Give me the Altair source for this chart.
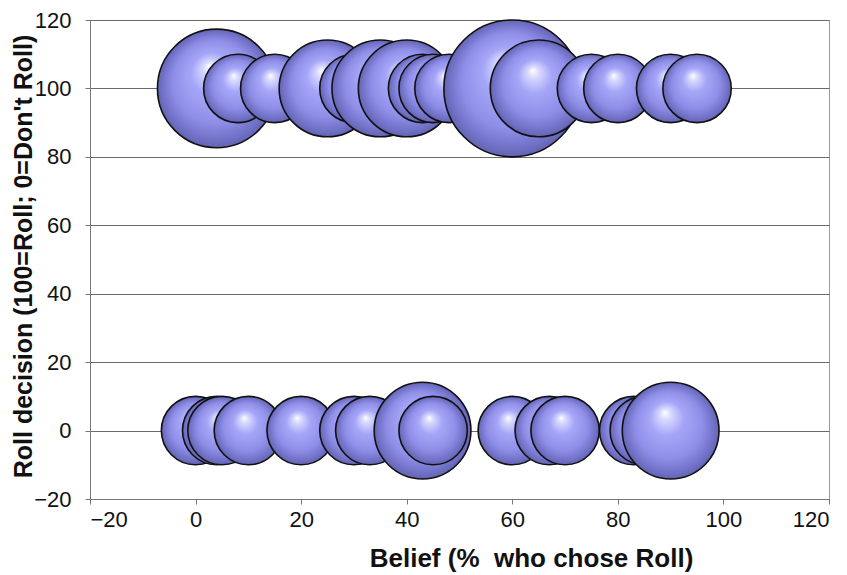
import altair as alt
import pandas as pd

# Subjects who chose Roll (decision = 100): belief value and number of subjects
roll_belief = [4, 8, 15, 25, 30, 35, 40, 43, 45, 48, 60, 65, 75, 80, 90, 95]
roll_count = [3, 1, 1, 2, 1, 2, 2, 1, 1, 1, 4, 2, 1, 1, 1, 1]

# Subjects who chose Don't Roll (decision = 0)
dont_belief = [0, 4, 5, 10, 20, 30, 33, 43, 45, 60, 67, 70, 83, 85, 90]
dont_count = [1, 1, 1, 1, 1, 1, 1, 2, 1, 1, 1, 1, 1, 1, 2]

tick_values = [-20, 0, 20, 40, 60, 80, 100, 120]

df = pd.DataFrame({
    "belief": roll_belief + dont_belief,
    "decision": [100] * len(roll_belief) + [0] * len(dont_belief),
    "count": roll_count + dont_count,
})
df["order"] = range(len(df))

LABEL_FONT = "Liberation Sans Narrow, Liberation Sans, Arial"
TITLE_FONT = "Liberation Sans, Arial"

sphere = alt.RadialGradient(
    gradient="radial",
    x1=0.44, y1=0.31, r1=0.0,
    x2=0.5, y2=0.5, r2=0.5,
    stops=[
        alt.GradientStop(offset=0.0, color="#ffffff"),
        alt.GradientStop(offset=0.12, color="#d8d8ff"),
        alt.GradientStop(offset=0.35, color="#a6a6f8"),
        alt.GradientStop(offset=0.7, color="#8e8ee8"),
        alt.GradientStop(offset=0.9, color="#7272c8"),
        alt.GradientStop(offset=1.0, color="#6464b4"),
    ],
)

chart = (
    alt.Chart(df)
    .mark_circle(fill=sphere, stroke="#111111", strokeWidth=1.6, opacity=1, fillOpacity=1)
    .encode(
        x=alt.X(
            "belief:Q",
            scale=alt.Scale(domain=[-20, 120], nice=False, zero=False),
            axis=alt.Axis(
                values=tick_values,
                title="Belief (% \u00a0who chose Roll)",
                grid=False,
                tickSize=5,
                labelPadding=5,
                titleFontSize=26,
                titleX=441,
                titleY=67,
                titleAlign="center",
                titleBaseline="alphabetic",
            ),
        ),
        y=alt.Y(
            "decision:Q",
            scale=alt.Scale(domain=[-20, 120], nice=False, zero=False),
            axis=alt.Axis(
                values=tick_values,
                title="Roll decision (100=Roll; 0=Don't Roll)",
                grid=True,
                tickSize=5,
                labelPadding=14,
                titleFontSize=25,
                titleX=-67,
                titleY=236,
                titleAngle=270,
                titleAlign="center",
                titleBaseline="middle",
            ),
        ),
        size=alt.Size(
            "count:Q",
            scale=alt.Scale(type="linear", domain=[0, 4], range=[0, 18720]),
            legend=None,
        ),
        order=alt.Order("order:Q"),
    )
    .properties(
        width=739,
        height=479,
        autosize=alt.AutoSizeParams(type="none"),
        padding={"left": 90, "top": 20, "right": 18, "bottom": 76},
    )
    .configure_view(stroke="#9a9a9a", strokeWidth=1)
    .configure_axis(
        labelFont=LABEL_FONT,
        labelFontSize=22,
        labelColor="#111111",
        titleFont=TITLE_FONT,
        titleFontWeight="bold",
        titleColor="#111111",
        domainColor="#777777",
        tickColor="#777777",
        gridColor="#6a6a6a",
        gridWidth=1,
    )
)

chart.save("out.html", embed_options={"renderer": "svg", "actions": False})
